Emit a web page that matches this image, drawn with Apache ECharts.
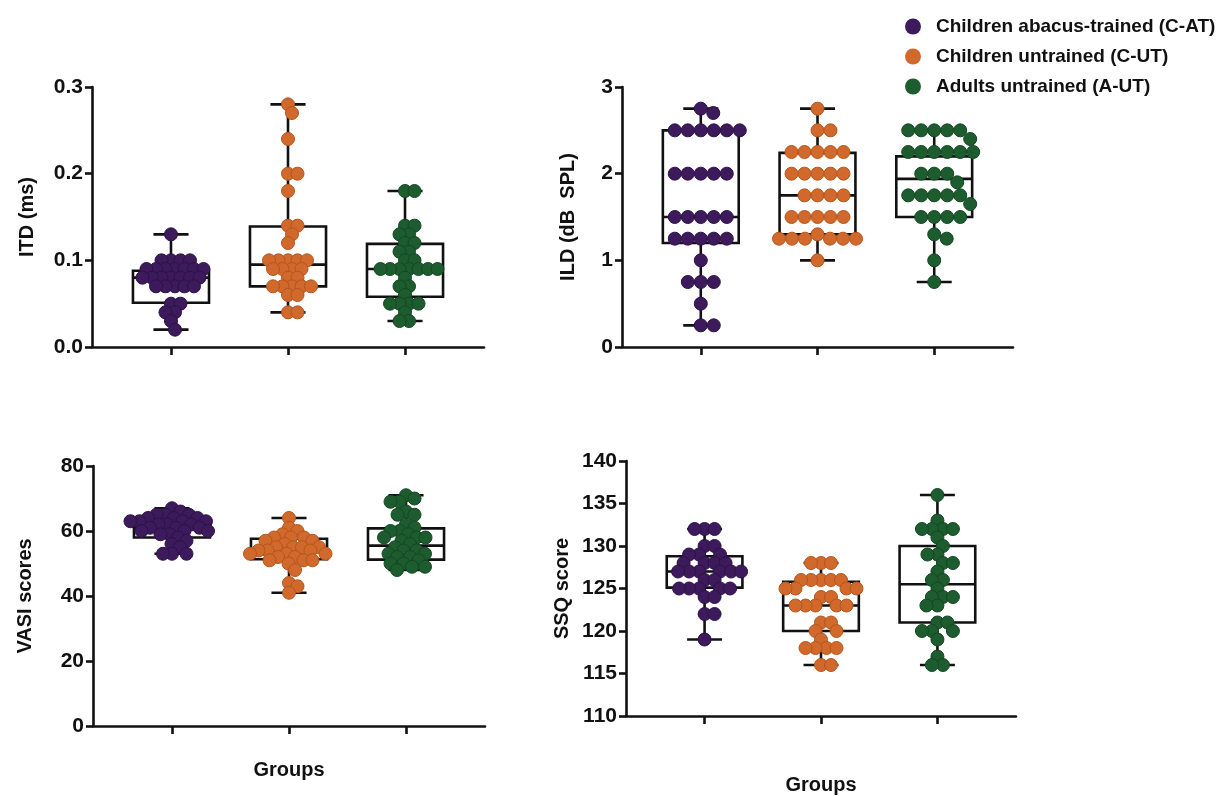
<!DOCTYPE html>
<html><head><meta charset="utf-8">
<script src="https://cdn.jsdelivr.net/npm/echarts@6/dist/echarts.min.js"></script>
<style>html,body{margin:0;padding:0;background:#fff}#c{width:1227px;height:796px}</style>
</head><body><div id="c"></div>
<script>
// ---------------- DATA ----------------
const groups = ['Children abacus-trained (C-AT)', 'Children untrained (C-UT)', 'Adults untrained (A-UT)'];
const groupPos = [1, 2, 3];

// ITD (ms)
const itdCAT = [0.13,0.10,0.10,0.10,0.10,0.09,0.09,0.09,0.09,0.09,0.09,0.09,0.08,0.08,0.08,0.08,0.08,0.08,0.08,0.07,0.07,0.07,0.07,0.07,0.05,0.05,0.04,0.04,0.03,0.02];
const itdCUT = [0.28,0.27,0.24,0.20,0.20,0.18,0.14,0.14,0.13,0.12,0.10,0.10,0.10,0.10,0.10,0.09,0.09,0.09,0.09,0.08,0.08,0.07,0.07,0.07,0.07,0.07,0.06,0.06,0.04,0.04];
const itdAUT = [0.18,0.18,0.14,0.14,0.13,0.13,0.12,0.12,0.11,0.11,0.10,0.10,0.09,0.09,0.09,0.09,0.09,0.09,0.09,0.08,0.07,0.07,0.06,0.05,0.05,0.05,0.05,0.04,0.03,0.03];
// box stats: [min, Q1, median, Q3, max]
const itdBox = [[0.02,0.051,0.08,0.088,0.13],[0.04,0.07,0.095,0.139,0.28],[0.03,0.058,0.09,0.119,0.18]];

// ILD (dB SPL)
const ildCAT = [2.75,2.7,2.5,2.5,2.5,2.5,2.5,2.5,2.0,2.0,2.0,2.0,2.0,1.5,1.5,1.5,1.5,1.5,1.25,1.25,1.25,1.25,1.25,1.0,0.75,0.75,0.75,0.5,0.25,0.25];
const ildCUT = [2.75,2.5,2.5,2.25,2.25,2.25,2.25,2.25,2.0,2.0,2.0,2.0,2.0,1.75,1.75,1.75,1.75,1.5,1.5,1.5,1.5,1.5,1.3,1.25,1.25,1.25,1.25,1.25,1.25,1.0];
const ildAUT = [2.5,2.5,2.5,2.5,2.5,2.4,2.25,2.25,2.25,2.25,2.25,2.25,2.0,2.0,2.0,1.9,1.75,1.75,1.75,1.75,1.75,1.65,1.5,1.5,1.5,1.5,1.3,1.25,1.0,0.75];
const ildBox = [[0.25,1.2,1.5,2.5,2.75],[1.0,1.3,1.75,2.24,2.75],[0.75,1.5,1.94,2.2,2.5]];

// VASI scores
const vasiCAT = [67,66,65,65,65,64,64,64,63,63,63,63,62,62,62,61,61,61,60,60,60,59,59,58,57,56,55,53,53,53];
const vasiCUT = [64,61,60,59,58,58,58,57,57,56,55,55,55,55,54,54,54,53,53,53,52,52,51,51,51,50,48,44,43,41];
const vasiAUT = [71,70,69,69,66,65,65,62,61,60,60,59,58,58,58,57,56,55,54,54,53,53,52,52,51,50,50,49,49,48];
const vasiBox = [[53,58,61,63,67],[41,51.3,54,57.6,64],[48,51.2,55.5,60.8,71]];

// SSQ score
const ssqCAT = [132,132,132,130,130,129,129,129,128,128,128,128,127,127,127,127,127,127,126,126,125,125,125,125,125,124,124,122,122,119];
const ssqCUT = [128,128,128,126,126,126,126,126,125,125,125,125,124,124,123,123,123,123,123,121,121,120,120,119,118,118,118,118,116,116];
const ssqAUT = [136,133,132,132,132,132,131,130,129,129,128,128,127,126,126,125,124,124,124,123,123,121,121,120,120,120,119,117,116,116];
const ssqBox = [[119,125.1,127,128.8,132],[116,120,123,125.8,128],[116,121,125.5,130,136]];

// tick values
const itdTicks = [0, 0.1, 0.2, 0.3];
const ildTicks = [0, 1, 2, 3];
const vasiTicks = [0, 20, 40, 60, 80];
const ssqTicks = [110, 115, 120, 125, 130, 135, 140];

// ---------------- STYLE ----------------
const colors = ['#3d1a5c', '#d0692b', '#1d5c2e'];
const borders = ['#2e1248', '#b5561c', '#154722'];
const FONT = 'Liberation Sans';
const xMin = 0.325, xMax = 3.675;

const panels = [
  {vals:[itdCAT,itdCUT,itdAUT], box:itdBox, ticks:itdTicks, fmt:v=>v.toFixed(1), yName:'ITD (ms)', nameGap:55, xName:'', xGap:0,
   grid:{left:92,top:87,width:392,height:260}, dmin:9.5},
  {vals:[ildCAT,ildCUT,ildAUT], box:ildBox, ticks:ildTicks, fmt:v=>String(v), yName:'ILD (dB  SPL)', nameGap:44, xName:'', xGap:0,
   grid:{left:622,top:87,width:391,height:260}, dmin:13},
  {vals:[vasiCAT,vasiCUT,vasiAUT], box:vasiBox, ticks:vasiTicks, fmt:v=>String(v), yName:'VASI scores', nameGap:58, xName:'Groups', xGap:34,
   grid:{left:93,top:466,width:392,height:260}, dmin:9},
  {vals:[ssqCAT,ssqCUT,ssqAUT], box:ssqBox, ticks:ssqTicks, fmt:v=>String(v), yName:'SSQ score', nameGap:54, xName:'Groups', xGap:59,
   grid:{left:626,top:461,width:390,height:259}, dmin:10}
];

// beeswarm layout computed in pixel space from axis scales
function swarm(values, center, pxX, pxY, dmin) {
  const order = values.map((v,i)=>i).sort((a,b)=>values[b]-values[a]);
  const placed = [];
  const out = [];
  for (const i of order) {
    const y = values[i] * pxY;
    let off = 0;
    for (let k = 0; k < 2000; k++) {
      const cand = (k % 2 ? 1 : -1) * Math.ceil(k / 2) * 0.5;
      let ok = true;
      for (const p of placed) {
        const dx = p.x - cand, dy = p.y - y;
        if (dx*dx + dy*dy < dmin*dmin) { ok = false; break; }
      }
      if (ok) { off = cand; break; }
    }
    placed.push({x: off, y});
    out.push([center + off / pxX, values[i]]);
  }
  return out;
}

function renderBox(params, api) {
  const x = api.value(0);
  const bh = 0.325, ch = 0.15;
  const pMin = api.coord([x, api.value(1)]);
  const pQ1 = api.coord([x, api.value(2)]);
  const pMed = api.coord([x, api.value(3)]);
  const pQ3 = api.coord([x, api.value(4)]);
  const pMax = api.coord([x, api.value(5)]);
  const l = api.coord([x - bh, 0])[0], r = api.coord([x + bh, 0])[0];
  const cl = api.coord([x - ch, 0])[0], cr = api.coord([x + ch, 0])[0];
  const st = {stroke:'#111', lineWidth:2.6, fill:null};
  return {type:'group', children:[
    {type:'rect', shape:{x:l, y:pQ3[1], width:r-l, height:pQ1[1]-pQ3[1]}, style:{stroke:'#111', lineWidth:2.6, fill:'rgba(0,0,0,0)'}},
    {type:'line', shape:{x1:l, y1:pMed[1], x2:r, y2:pMed[1]}, style:st},
    {type:'line', shape:{x1:pQ3[0], y1:pQ3[1], x2:pMax[0], y2:pMax[1]}, style:st},
    {type:'line', shape:{x1:pQ1[0], y1:pQ1[1], x2:pMin[0], y2:pMin[1]}, style:st},
    {type:'line', shape:{x1:cl, y1:pMax[1], x2:cr, y2:pMax[1]}, style:st},
    {type:'line', shape:{x1:cl, y1:pMin[1], x2:cr, y2:pMin[1]}, style:st}
  ]};
}

const grid = [], xAxis = [], yAxis = [], series = [];
panels.forEach((p, gi) => {
  grid.push(Object.assign({containLabel:false}, p.grid));
  const yMin = p.ticks[0], yMax = p.ticks[p.ticks.length-1];
  const yInt = p.ticks[1] - p.ticks[0];
  xAxis.push({
    type:'value', gridIndex:gi, min:xMin, max:xMax,
    axisLine:{show:true, onZero:false, lineStyle:{color:'#111', width:2.6}},
    axisTick:{show:true, customValues:groupPos, length:8, lineStyle:{color:'#111', width:2.6}},
    axisLabel:{show:false}, splitLine:{show:false},
    name:p.xName, nameLocation:'middle', nameGap:p.xGap,
    nameTextStyle:{fontFamily:FONT, fontWeight:'bold', fontSize:20, color:'#111'}
  });
  yAxis.push({
    type:'value', gridIndex:gi, min:yMin, max:yMax, interval:yInt,
    axisLine:{show:true, lineStyle:{color:'#111', width:2.6}},
    axisTick:{show:true, length:7, lineStyle:{color:'#111', width:2.6}},
    axisLabel:{formatter:p.fmt, fontFamily:FONT, fontWeight:'bold', fontSize:21, color:'#111', margin:9},
    splitLine:{show:false},
    name:p.yName, nameLocation:'middle', nameGap:p.nameGap,
    nameTextStyle:{fontFamily:FONT, fontWeight:'bold', fontSize:20, color:'#111'}
  });
  series.push({
    type:'custom', xAxisIndex:gi, yAxisIndex:gi, z:2, silent:true,
    renderItem:renderBox, encode:{x:0, y:[1,2,3,4,5]},
    data: p.box.map((b, k) => [groupPos[k]].concat(b))
  });
  const pxX = p.grid.width / (xMax - xMin);
  const pxY = p.grid.height / (yMax - yMin);
  p.vals.forEach((vals, k) => {
    series.push({
      type:'scatter', name:groups[k], xAxisIndex:gi, yAxisIndex:gi, z:3,
      symbol:'circle', symbolSize:13,
      itemStyle:{color:colors[k], borderColor:borders[k], borderWidth:1, opacity:1},
      data: swarm(vals, groupPos[k], pxX, pxY, p.dmin)
    });
  });
});

const chart = echarts.init(document.getElementById('c'));
chart.setOption({
  animation:false,
  backgroundColor:'#fff',
  color:colors,
  legend:{
    data:groups.map((g,k)=>({name:g, itemStyle:{color:colors[k], borderWidth:0}})),
    orient:'vertical', left:900, top:12,
    icon:'circle', itemWidth:36, itemHeight:16, itemGap:11,
    textStyle:{fontFamily:FONT, fontWeight:'bold', fontSize:19, color:'#111'},
    selectedMode:false
  },
  grid, xAxis, yAxis, series
});
</script>
</body></html>
